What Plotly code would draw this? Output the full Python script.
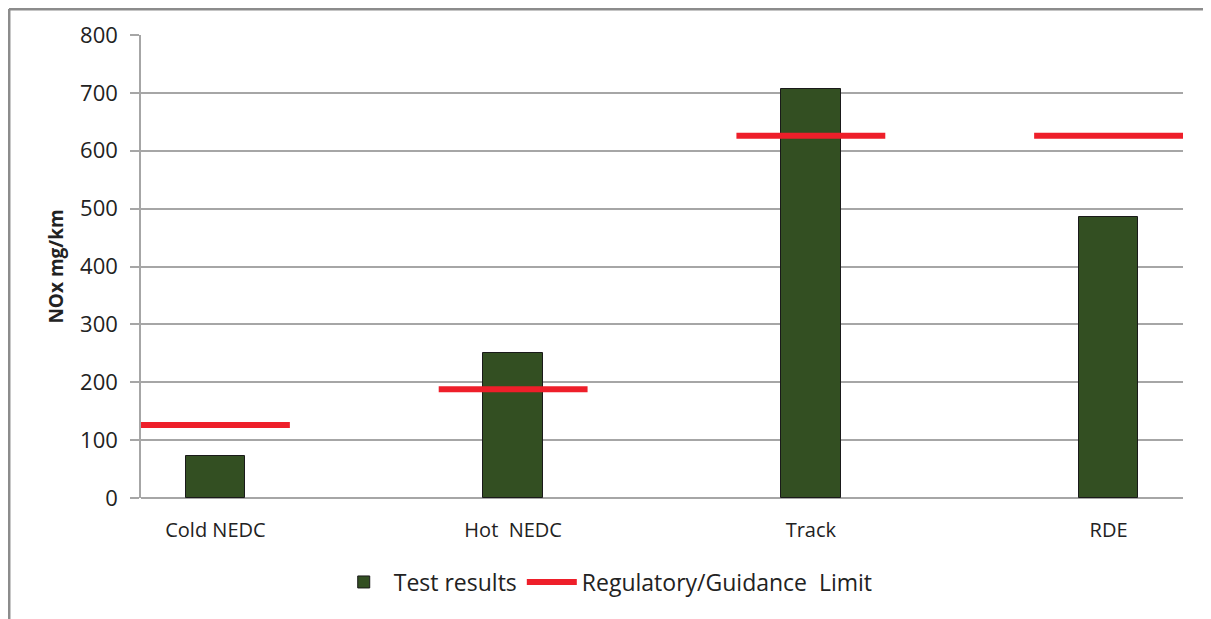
import plotly.graph_objects as go

categories = ["Cold NEDC", "Hot  NEDC", "Track", "RDE"]
test_results = [73, 250, 706, 485]
limits = [126, 188, 626, 626]

GREEN = "#334f22"
RED = "#ee1f2a"
GRID = "#a6a6a6"
FONT = "Open Sans, Liberation Sans, sans-serif"

xpos = list(range(len(categories)))

# limit segments: one line per category, half a category wide
half = 0.25
lx, ly = [], []
for i, v in zip(xpos, limits):
    lx += [i - half, i + half, None]
    ly += [v, v, None]

fig = go.Figure()
fig.add_trace(go.Bar(
    x=xpos, y=test_results, width=0.2,
    name="Test results",
    marker=dict(color=GREEN, line=dict(color="#1a1a1a", width=1)),
))
fig.add_trace(go.Scatter(
    x=lx, y=ly, mode="lines",
    name="Regulatory/Guidance  Limit",
    line=dict(color=RED, width=6),
))

# page body has an 8px margin, so the figure is 8px smaller than the window
fig.update_layout(
    width=1203, height=611,
    plot_bgcolor="#ffffff", paper_bgcolor="#ffffff",
    font=dict(family=FONT, size=18, color="#222222"),
    margin=dict(l=133, r=28, t=27, b=121),
    bargap=0,
    legend=dict(orientation="h", x=0.446, xanchor="center", y=-0.135, yanchor="top",
                font=dict(size=23), traceorder="normal", itemwidth=50),
    showlegend=True,
)
fig.update_xaxes(
    range=[-0.25, 3.25], tickvals=xpos, ticktext=categories,
    showgrid=False, showline=False, zeroline=False, ticks="",
    tickfont=dict(size=20), ticklabelstandoff=18,
)
fig.update_yaxes(
    range=[0, 800], dtick=100, showgrid=True, gridcolor=GRID, gridwidth=1.5,
    zeroline=True, zerolinecolor=GRID, zerolinewidth=1.5,
    showline=True, linecolor=GRID, linewidth=1.5,
    ticks="outside", ticklen=9, tickcolor=GRID, tickwidth=1.5,
    tickfont=dict(size=22), ticklabelstandoff=8,
    title=dict(text="<b>NOx mg/km</b>", font=dict(size=19), standoff=11),
)

# outer frame (top and left edges)
fig.add_shape(type="line", xref="paper", yref="paper", x0=-0.1267, x1=1.02,
              y0=1.056, y1=1.056, line=dict(color="#8c8c8c", width=3))
fig.add_shape(type="line", xref="paper", yref="paper", x0=-0.1267, x1=-0.1267,
              y0=1.056, y1=-0.27, line=dict(color="#8c8c8c", width=3))

fig.write_html("out.html")
